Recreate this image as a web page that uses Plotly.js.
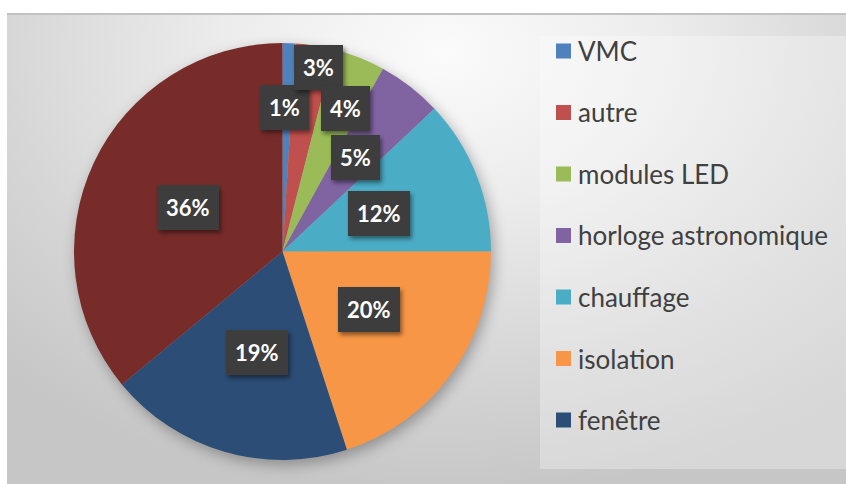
<!DOCTYPE html>
<html>
<head>
<meta charset="utf-8">
<script src="https://cdn.plot.ly/plotly-3.0.1.min.js"></script>
<style>
  html, body { margin: 0; padding: 0; background: #ffffff; }
  #wrap { position: relative; width: 846px; height: 484px; overflow: hidden; }
  #bg { position: absolute; left: 7px; top: 13px; width: 839px; height: 471px;
        border-top: 2px solid #c2c2c2; box-sizing: border-box;
        background: radial-gradient(ellipse 75% 95% at 52% 8%, #fbfbfb 0%, #ececec 35%, #d6d6d6 70%, #c6c6c6 100%); }
  #chart { position: absolute; left: 0; top: 0; width: 846px; height: 484px; }
  .pielayer { filter: drop-shadow(3px 5px 7px rgba(0,0,0,0.3)); }
  .annotation rect.bg { filter: drop-shadow(2px 3px 2px rgba(0,0,0,0.45)); }
</style>
</head>
<body>
<div id="wrap"><div id="bg"></div><div id="chart"></div></div>
<script>
// ---- data ----
const categories = ["VMC", "autre", "modules LED", "horloge astronomique", "chauffage", "isolation", "fenêtre", "luminaires"];
const values = [1, 3, 4, 5, 12, 20, 19, 36];
const legendShown = [true, true, true, true, true, true, true, false];
const colors = ["#4F81BD", "#C0504D", "#9BBB59", "#8064A2", "#4BACC6", "#F79646", "#2C4D75", "#772C2A"];

// ---- layout geometry ----
const W = 846, H = 484;
const cx = 282.5, cy = 251.5, R = 208.5;
const labelRadius = [0.69, 0.90, 0.75, 0.57, 0.5, 0.5, 0.5, 0.5];
const labelAngleShift = [-1, 2, 2, 0, 0, -2, -2, 0];

const total = values.reduce((a, b) => a + b, 0);

const trace = {
  type: "pie",
  labels: categories,
  values: values,
  sort: false,
  direction: "clockwise",
  rotation: 0,
  textinfo: "none",
  marker: { colors: colors, line: { width: 0 } },
  domain: { x: [(cx - R) / W, (cx + R) / W], y: [1 - (cy + R) / H, 1 - (cy - R) / H] },
  showlegend: false,
  hoverinfo: "label+percent"
};

const annotations = [];
const shapes = [];

// data labels
let cum = 0;
values.forEach((v, i) => {
  const mid = (cum + v / 2) / total * 360 + labelAngleShift[i];
  cum += v;
  const a = mid * Math.PI / 180;
  const r = labelRadius[i] * R;
  const px = cx + r * Math.sin(a);
  const py = cy - r * Math.cos(a);
  annotations.push({
    xref: "paper", yref: "paper", x: px / W, y: 1 - py / H,
    xanchor: "center", yanchor: "middle", showarrow: false,
    text: Math.round(v / total * 100) + "%",
    font: { family: "Lato, 'Open Sans', sans-serif", size: 22, color: "#ffffff", weight: "bold" },
    bgcolor: "#3d3d3d", borderpad: 9, borderwidth: 0
  });
});

// legend panel
shapes.push({ type: "rect", xref: "paper", yref: "paper",
  x0: 540 / W, x1: 1, y0: 1 - 469 / H, y1: 1 - 36 / H,
  fillcolor: "rgba(255,255,255,0.3)", line: { width: 0 }, layer: "below" });

// legend entries
let row = 0;
categories.forEach((c, i) => {
  if (!legendShown[i]) return;
  const yc = 51 + row * 61.5;
  row++;
  shapes.push({ type: "rect", xref: "paper", yref: "paper",
    x0: 556 / W, x1: 571 / W, y0: 1 - (yc + 7.5) / H, y1: 1 - (yc - 7.5) / H,
    fillcolor: colors[i], line: { width: 0 } });
  annotations.push({
    xref: "paper", yref: "paper", x: 576 / W, y: 1 - yc / H,
    xanchor: "left", yanchor: "middle", showarrow: false,
    text: c,
    font: { family: "Lato, 'Open Sans', sans-serif", size: 26, color: "#404040" }
  });
});

const layout = {
  width: W, height: H,
  margin: { l: 0, r: 0, t: 0, b: 0 },
  paper_bgcolor: "rgba(0,0,0,0)",
  plot_bgcolor: "rgba(0,0,0,0)",
  showlegend: false,
  annotations: annotations,
  shapes: shapes
};

Plotly.newPlot("chart", [trace], layout, { displayModeBar: false, staticPlot: true });
</script>
</body>
</html>
